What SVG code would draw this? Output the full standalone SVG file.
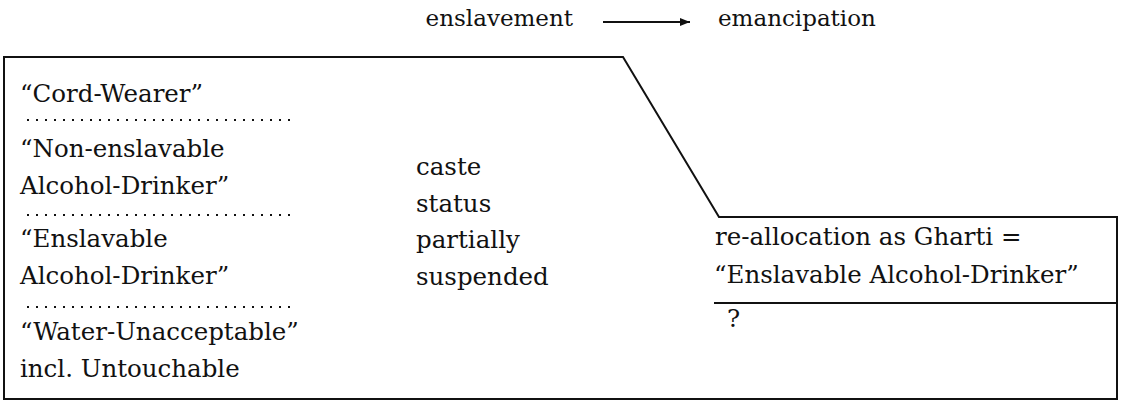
<svg xmlns="http://www.w3.org/2000/svg" width="1124" height="402" viewBox="0 0 1124 402">
<style>
text{font-family:"DejaVu Serif","Liberation Serif",serif;font-size:24.5px;fill:#111}
text.hdr{font-size:23px}
.frame{fill:none;stroke:#111;stroke-width:2}
.dots{stroke:#111;stroke-width:2;stroke-dasharray:2 7;fill:none}
.conn{stroke:#111;stroke-width:2;fill:none}
</style>
<defs>
<marker id="ah" viewBox="0 0 10 8" refX="10" refY="4" markerWidth="11" markerHeight="8" markerUnits="userSpaceOnUse" orient="auto">
<path d="M0,0 L10,4 L0,8 Z" fill="#111"/>
</marker>
</defs>
<g id="header-enslavement"><text class="hdr" x="573" y="26" text-anchor="end">enslavement</text></g>
<g id="header-emancipation"><text class="hdr" x="718" y="26">emancipation</text></g>
<g id="connectors"><line class="conn" x1="603" y1="22" x2="690" y2="22" marker-end="url(#ah)"/></g>
<g id="frame"><path class="frame" d="M4,57 L623,57 L719,217 L1117,217 L1117,399 L4,399 Z"/></g>
<g id="caste-list">
<text x="20" y="102">“Cord-Wearer”</text>
<line class="dots" x1="27" y1="120" x2="292" y2="120"/>
<text x="20" y="157">“Non-enslavable</text>
<text x="20" y="194">Alcohol-Drinker”</text>
<line class="dots" x1="27" y1="215" x2="292" y2="215"/>
<text x="20" y="247">“Enslavable</text>
<text x="20" y="284">Alcohol-Drinker”</text>
<line class="dots" x1="27" y1="307" x2="292" y2="307"/>
<text x="20" y="340">“Water-Unacceptable”</text>
<text x="20" y="377">incl. Untouchable</text>
</g>
<g id="status-note">
<text x="416" y="175">caste</text>
<text x="416" y="212">status</text>
<text x="416" y="248">partially</text>
<text x="416" y="285">suspended</text>
</g>
<g id="reallocation">
<text x="715" y="245">re-allocation as Gharti =</text>
<text x="714" y="283">“Enslavable Alcohol-Drinker”</text>
<line class="conn" x1="714" y1="303" x2="1117" y2="303"/>
<text x="727" y="327">?</text>
</g>
</svg>
